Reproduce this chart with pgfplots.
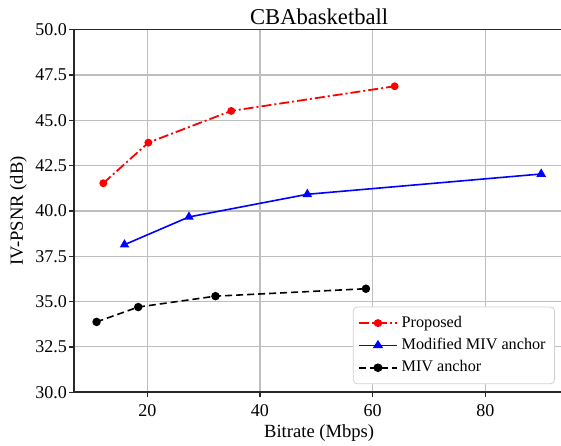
\documentclass[border=0pt]{standalone}
\usepackage{fontspec}
\setmainfont{Liberation Serif}
\usepackage{pgfplots}
\pgfplotsset{compat=1.18}
\usetikzlibrary{calc}
\definecolor{gridgray}{RGB}{190,190,190}
\definecolor{spine}{RGB}{40,40,40}
\begin{document}
\begin{tikzpicture}
\begin{axis}[
  scale only axis,
  width=244.9pt, height=181.3pt,
  xmin=7.05, xmax=93.95,
  ymin=30, ymax=50,
  xtick={20,40,60,80},
  ytick={30,32.5,35,37.5,40,42.5,45,47.5,50},
  yticklabel style={/pgf/number format/.cd, fixed, fixed zerofill, precision=1, /tikz/.cd, xshift=2.3pt},
  /pgf/number format/assume math mode=true,
  ticklabel style={font=\fontsize{9}{10}\selectfont},
  tick align=outside,
  major tick length=2.5pt,
  tick style={spine, line width=0.6pt},
  xtick pos=bottom, ytick pos=left,
  axis line style={spine, line width=0.8pt},
  grid=major,
  major grid style={gridgray, line width=0.55pt},
  every axis title shift=0pt,
  title={CBAbasketball},
  title style={font=\fontsize{11.3}{12}\selectfont, at={(0.5,1)}, anchor=base, yshift=2.7pt},
  xlabel={Bitrate (Mbps)},
  xlabel style={font=\fontsize{9.3}{10}\selectfont, at={(0.5,0)}, anchor=base, yshift=-22.5pt},
  ylabel={IV-PSNR (dB)},
  ylabel style={font=\fontsize{9.3}{10}\selectfont, at={([xshift=-27.9pt]axis description cs:0,0.5)}, anchor=center},
  legend cell align=left,
  legend style={
    at={([xshift=-4.5pt,yshift=4pt]axis description cs:1,0)}, anchor=south east,
    font=\fontsize{8.1}{9}\selectfont,
    draw=gray!35, rounded corners=2pt, fill=white,
    row sep=0pt, inner sep=2.5pt,
  },
  legend image post style={xscale=1.1},
]
\addplot[red, line width=0.9pt, dash pattern=on 5pt off 1.5pt on 1pt off 1.5pt,
  mark=*, mark size=1.5pt, mark options={solid}]
  coordinates {(12.2,41.53) (20.2,43.77) (34.9,45.52) (63.9,46.88)};
\addlegendentry{Proposed}
\addplot[blue, line width=0.8pt,
  mark=triangle*, mark size=2pt, mark options={solid}]
  coordinates {(15.96,38.14) (27.4,39.67) (48.4,40.92) (89.9,42.04)};
\addlegendentry{Modified MIV anchor}
\addplot[black, line width=0.8pt, dash pattern=on 3.5pt off 2pt,
  mark=*, mark size=1.7pt, mark options={solid}]
  coordinates {(11.0,33.88) (18.4,34.70) (32.1,35.30) (58.8,35.71)};
\addlegendentry{MIV anchor}
\coordinate (bl) at (rel axis cs:0,0);
\coordinate (tr) at (rel axis cs:1,1);
\end{axis}
\pgfresetboundingbox
\useasboundingbox ($(bl)+(-37.15pt,-26.85pt)$) rectangle ($(tr)+(-1.5pt,14.85pt)$);
\end{tikzpicture}
\end{document}
